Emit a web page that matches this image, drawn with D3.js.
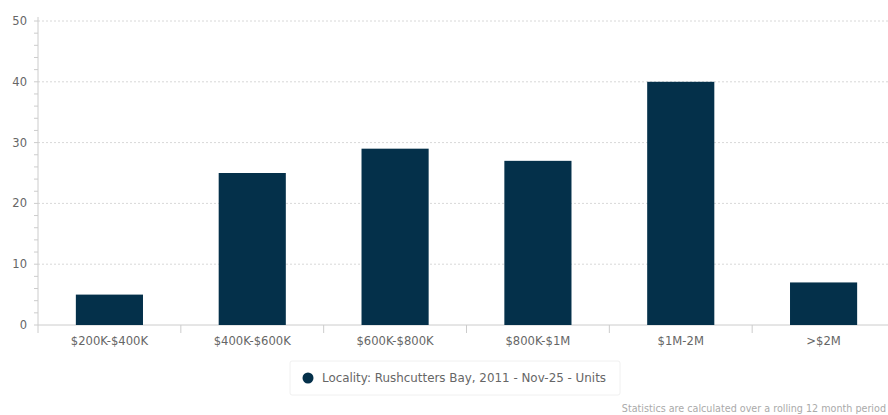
<!DOCTYPE html>
<html>
<head>
<meta charset="utf-8">
<script src="https://cdn.jsdelivr.net/npm/d3@7"></script>
<style>
  body { margin: 0; background: #fff; }
  svg { display: block; font-family: "DejaVu Sans", sans-serif; }
</style>
</head>
<body>
<svg id="chart" width="888" height="415"></svg>
<script>
let categories = ["$200K-$400K", "$400K-$600K", "$600K-$800K", "$800K-$1M", "$1M-2M", ">$2M"];
let values = [5, 25, 29, 27, 40, 7];
let yTicks = [0, 10, 20, 30, 40, 50];
let seriesName = "Locality: Rushcutters Bay, 2011 - Nov-25 - Units";
let footnote = "Statistics are calculated over a rolling 12 month period";

let svg = d3.select("#chart");
let mLeft = 38, mRight = 895, mTop = 21, mBottom = 325;

let x = d3.scaleBand().domain(categories).range([mLeft, mRight]).paddingInner(0.53).paddingOuter(0.265);
let y = d3.scaleLinear().domain([0, 50]).range([mBottom, mTop]);

// grid
svg.append("g").selectAll("line").data(yTicks.filter(d => d > 0)).enter()
  .append("line")
  .attr("x1", mLeft).attr("x2", 888)
  .attr("y1", d => y(d)).attr("y2", d => y(d))
  .attr("stroke", "#d8d8d8").attr("stroke-dasharray", "2,2");

// minor ticks
svg.append("g").selectAll("line").data(d3.range(0, 51, 2)).enter()
  .append("line")
  .attr("x1", mLeft - 4).attr("x2", mLeft)
  .attr("y1", d => y(d)).attr("y2", d => y(d))
  .attr("stroke", "#ccc");

// y axis line
svg.append("line").attr("x1", mLeft).attr("x2", mLeft).attr("y1", mTop - 4).attr("y2", mBottom)
  .attr("stroke", "#ccc");
// x axis line
svg.append("line").attr("x1", mLeft).attr("x2", 888).attr("y1", mBottom).attr("y2", mBottom)
  .attr("stroke", "#ccc");

// category boundary ticks
let step = x.step();
svg.append("g").selectAll("line").data(d3.range(0, categories.length + 1)).enter()
  .append("line")
  .attr("x1", i => mLeft + i * step).attr("x2", i => mLeft + i * step)
  .attr("y1", mBottom).attr("y2", mBottom + 8)
  .attr("stroke", "#ccc");

// y labels
svg.append("g").selectAll("text").data(yTicks).enter()
  .append("text")
  .attr("x", mLeft - 11).attr("y", d => y(d) + 4)
  .attr("text-anchor", "end")
  .attr("font-size", 11.5).attr("fill", "#666")
  .text(d => d);

// bars
svg.append("g").selectAll("rect").data(values).enter()
  .append("rect")
  .attr("x", (d, i) => x(categories[i]))
  .attr("width", x.bandwidth())
  .attr("y", d => y(d))
  .attr("height", d => mBottom - y(d))
  .attr("fill", "#04304a");

// x labels
svg.append("g").selectAll("text").data(categories).enter()
  .append("text")
  .attr("x", d => x(d) + x.bandwidth() / 2).attr("y", mBottom + 20)
  .attr("text-anchor", "middle")
  .attr("font-size", 11.6).attr("fill", "#666")
  .text(d => d);

// legend
let lg = svg.append("g");
lg.append("rect").attr("x", 290).attr("y", 361).attr("width", 330).attr("height", 34)
  .attr("fill", "#fff").attr("stroke", "#f0f0f0").attr("rx", 2);
lg.append("circle").attr("cx", 308).attr("cy", 378).attr("r", 5.5).attr("fill", "#04304a");
lg.append("text").attr("x", 322).attr("y", 382)
  .attr("font-size", 11.9).attr("fill", "#666").text(seriesName);

// footnote
svg.append("text").attr("x", 886).attr("y", 412)
  .attr("text-anchor", "end")
  .attr("font-size", 9.6).attr("fill", "#aaa").text(footnote);
</script>
</body>
</html>
